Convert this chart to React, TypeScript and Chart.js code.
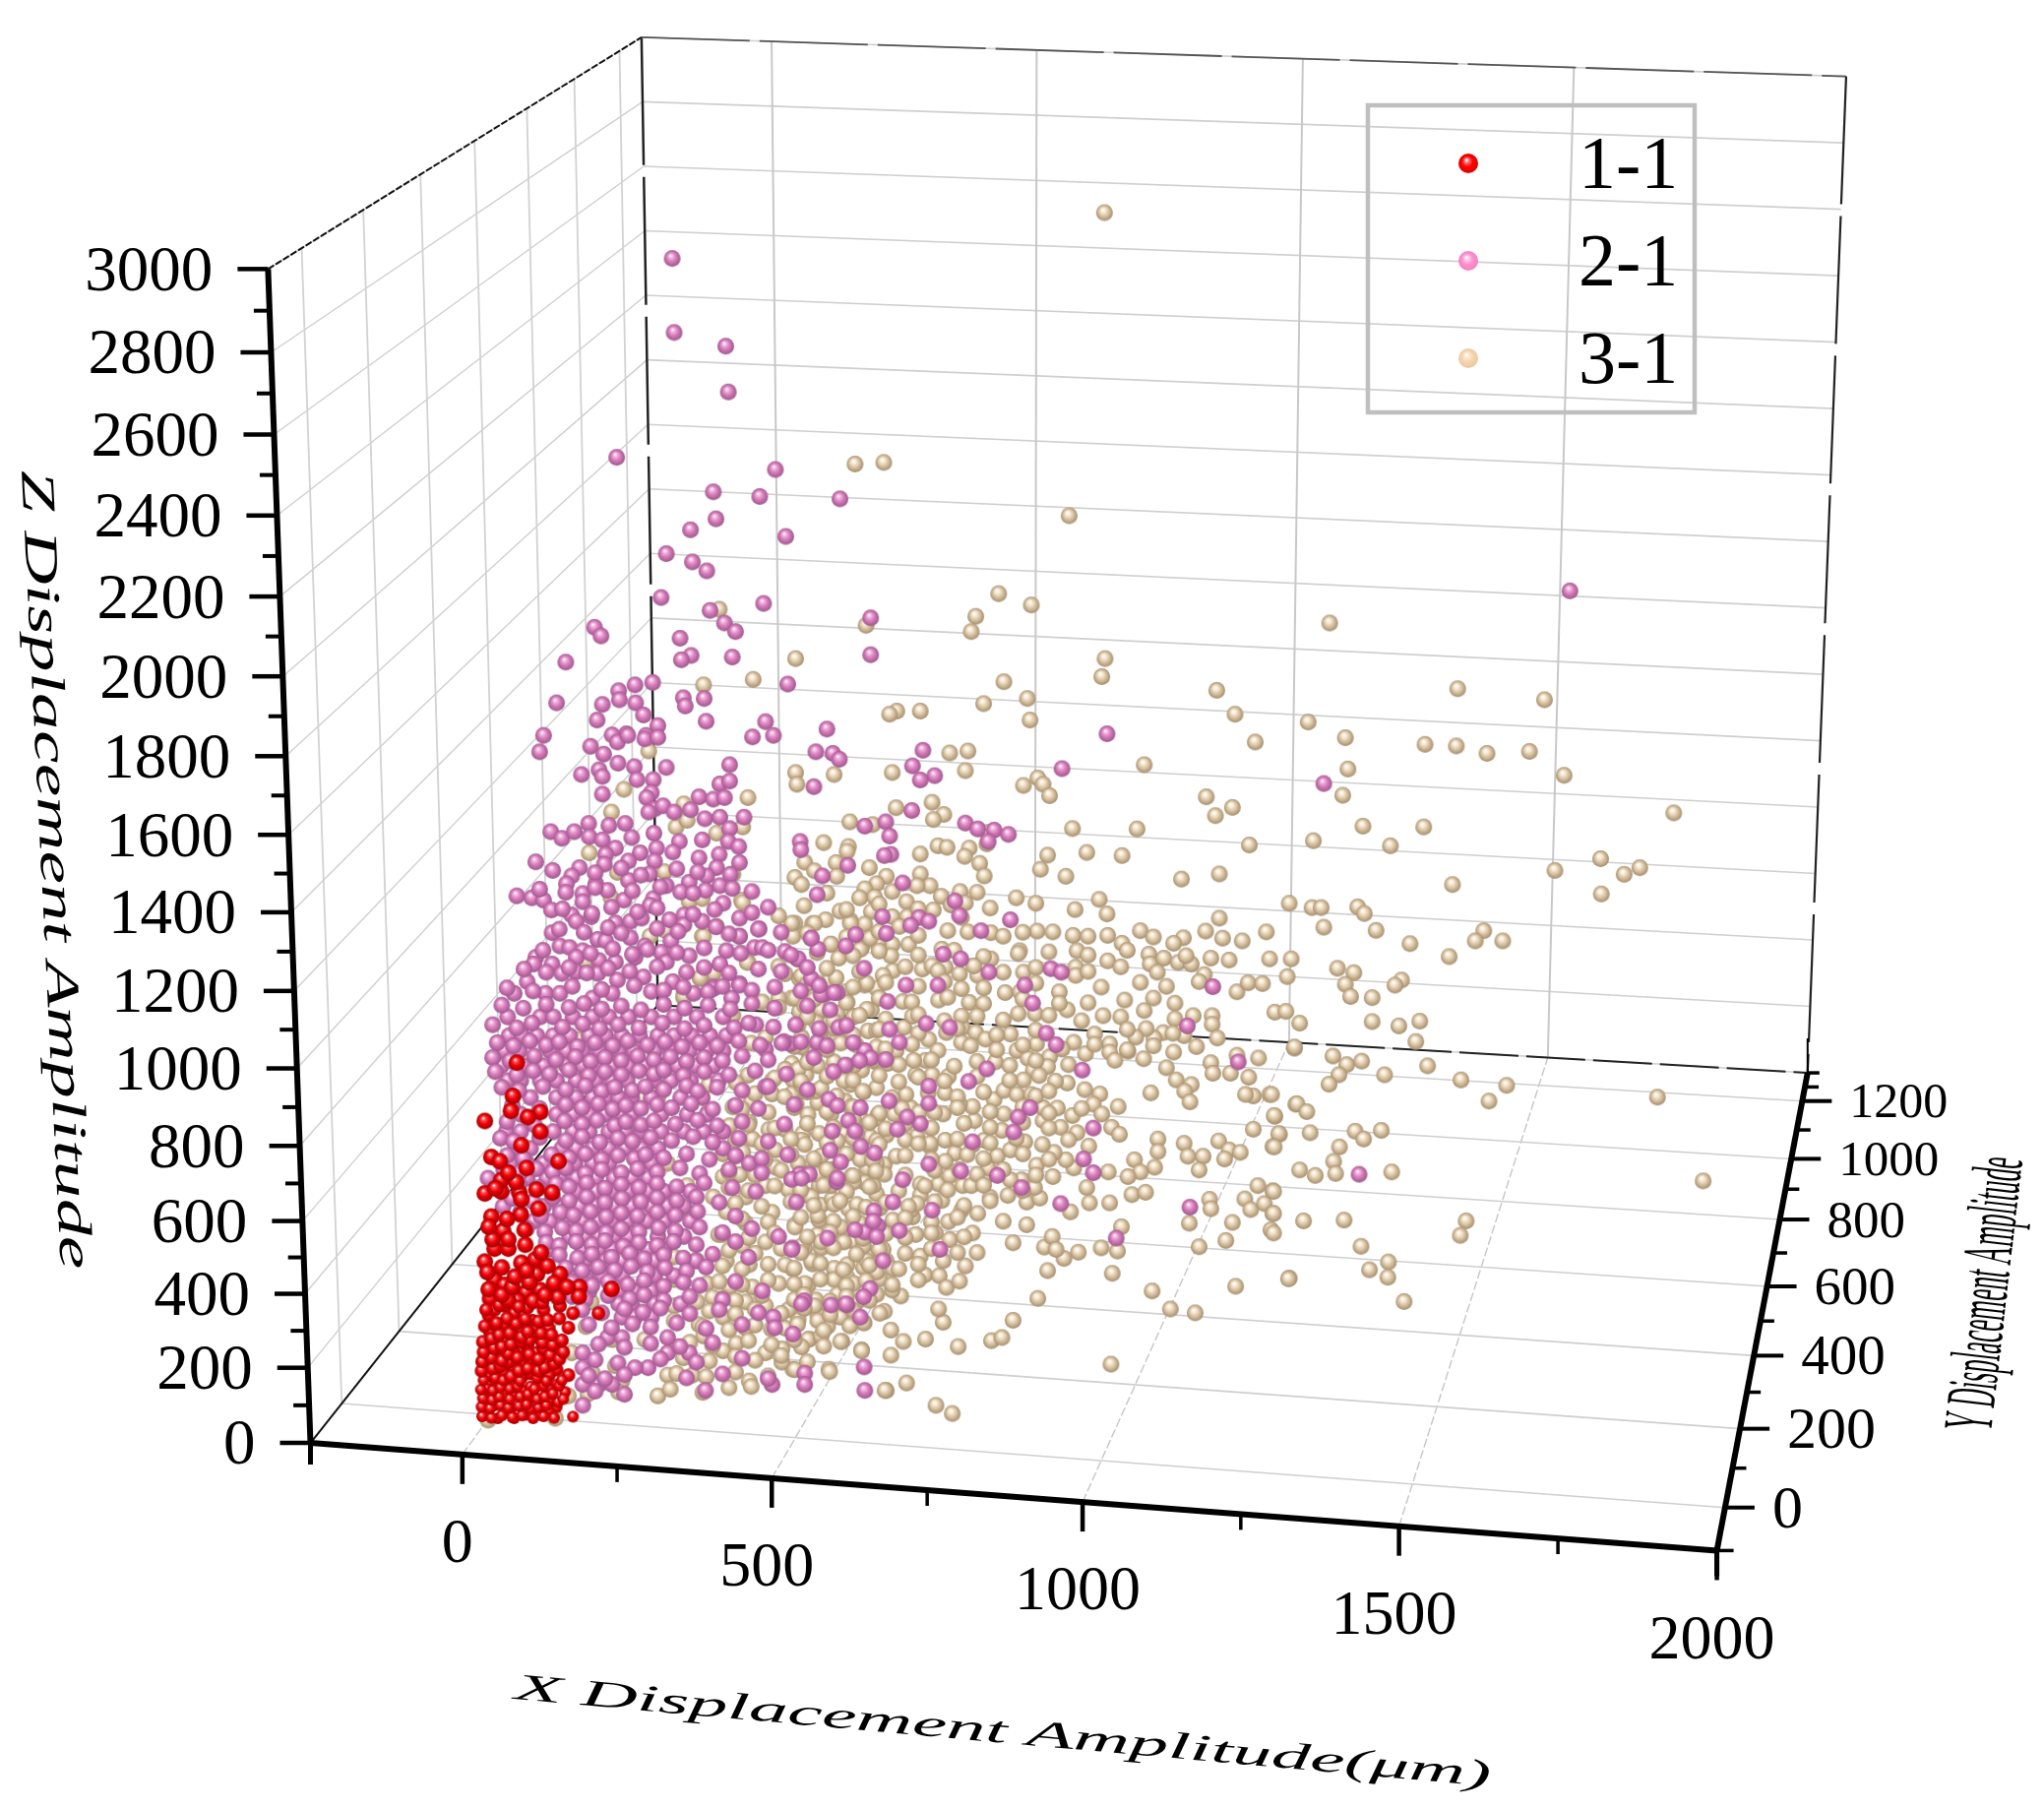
import React, { useEffect, useRef } from "react";
import { Chart, registerables } from "chart.js";
Chart.register(...registerables);

// Tick labels and series names
const seriesNames = ["1-1", "2-1", "3-1"];
const xTickLabels = ["0", "500", "1000", "1500", "2000"];
const yTickLabels = ["0", "200", "400", "600", "800", "1000", "1200"];
const zTickLabels = ["0", "200", "400", "600", "800", "1000", "1200", "1400", "1600", "1800", "2000", "2200", "2400", "2600", "2800", "3000"];

// Values, as x,z pairs in the projected plane
const red11 = [85,971,36,822,79,886,76,848,121,845,102,832,121,795,46,730,59,719,149,719,36,637,61,642,89,639,115,647,139,639,61,671,84,666,46,578,91,583,97,544,64,542,51,496,72,496,36,463,92,460,113,468,51,417,116,431,66,403,151,431,181,398,180,374,230,393,44,369,99,384,121,390,146,385,86,364,151,350,66,350,42,326,171,331,210,331,109,312,66,302,164,294,134,293,44,283,89,288,111,273,139,259,66,259,44,245,91,240,114,230,144,235,66,221,41,211,94,206,121,197,146,187,164,173,66,182,41,173,94,168,121,158,146,149,66,149,39,139,94,134,121,125,66,115,39,111,94,106,121,96,146,91,171,67,99,72,69,82,39,77,121,72,56,63,81,63,51,340,76,321,101,345,126,340,51,302,81,331,116,293,51,264,79,273,101,249,126,240,51,225,79,235,106,211,134,206,51,197,79,192,106,178,134,173,51,158,79,154,106,144,134,139,159,130,51,130,79,120,106,115,134,106,51,96,76,87,106,87,134,82];

const redFill = [32,68,46,64,62,70,78,66,93,70,110,63,126,68,142,64,31,92,44,88,60,96,72,90,88,94,100,98,118,90,130,96,148,104,33,114,47,110,58,118,74,112,90,118,102,124,116,112,128,118,140,126,156,112,30,136,48,134,60,142,74,138,86,144,112,138,126,146,150,146,34,160,52,166,64,160,76,170,90,158,116,166,130,158,154,160,31,184,48,190,60,196,72,206,88,184,102,190,118,184,128,192,142,202,32,208,46,218,62,210,72,228,86,218,104,226,118,214,136,224,150,214,34,232,50,242,62,246,76,252,92,258,104,262,124,256,140,250,156,232,33,258,46,266,58,276,74,280,92,270,102,284,122,280,138,276,154,262,36,298,54,306,70,318,84,304,98,316,118,310,132,314,150,318,38,340,58,352,72,364,88,348,110,362,124,358,148,372,42,392,62,378,78,398,104,410,128,378,142,408,162,398,40,436,62,448,82,424,100,440,132,452,48,520,72,520,98,506,122,486,42,552,70,572,92,622,118,598,52,650,72,690,100,702,92,760];

const pink21 = [323,3025,326,2836,405,2801,409,2684,238,2517,481,2486,386,2429,457,2417,580,2411,390,2360,351,2332,497,2315,314,2271,354,2250,376,2227,306,2159,463,2144,381,2126,403,2094,420,2072,627,2107,335,2055,352,2011,337,2000,415,2007,627,2013,293,1942,266,1936,241,1921,500,1938,340,1903,372,1901,267,1890,343,1882,279,1859,375,1843,466,1842,560,1823,301,1832,989,1811,253,1811,283,1807,446,1803,478,1807,1698,2176,1321,1684,1375,686,
920,1722,543,1765,569,1761,579,1746,707,1769,691,1729,725,1704,703,1693,540,1676,690,1615,650,1586,618,1575,772,1583,791,1568,816,1565,838,1554,807,1536,656,1550,519,1536,520,1515,658,1503,648,1500,592,1475,553,1448,676,1430,545,1400,756,1384,763,1347,841,1336,701,1342,716,1332,688,1322,645,1344,796,1308,604,1298,651,1301,536,1289,546,1261,589,1269,
515,1236,617,1212,808,1202,903,1211,919,1202,765,1236,738,1248,681,1169,730,1169,863,1169,1151,1165,536,1186,557,1146,576,1150,653,1127,875,1123,712,1071,656,1056,578,1061,748,1061,896,1046,911,1017,1112,1065,671,1023,545,1023,504,1019,618,1002,627,983,650,979,588,965,805,955,777,923,951,952,716,911,1190,973,563,877,655,873,716,867,871,856,853,832,576,861,611,856,703,815,683,832,593,823,603,796,568,796,668,801,846,794,968,804,783,769,565,747,612,757,633,740,581,717,716,712,953,725,968,690,518,686,506,673,533,686,575,667,676,672,765,694,821,683,858,652,918,611,1116,602,721,594,632,592,638,554,618,538,671,542,561,523,603,544,507,498,733,494,1003,523,646,465,626,394,616,373,591,352,566,352,525,363,508,278,617,194,526,178,513,615,661,615,
204,2083,214,2061,160,1994,146,1890,242,1898,216,1886,208,1846,126,1807,120,1765,231,1808,239,1790,255,1807,281,1798,301,1802,198,1779,218,1759,240,1736,265,1727,314,1725,184,1707,211,1719,216,1702,269,1694,294,1694,411,1732,396,1683,411,1690,216,1657,291,1661,284,1648,364,1650,386,1644,403,1648,296,1619,287,1611,309,1627,326,1611,351,1617,373,1594,396,1598,433,1598,195,1582,226,1577,251,1582,137,1561,154,1544,173,1561,196,1548,216,1540,261,1546,295,1557,334,1536,369,1540,411,1569,409,1536,236,1519,221,1503,274,1507,299,1519,324,1509,425,1523,364,1494,395,1503,114,1484,181,1469,219,1478,256,1486,296,1486,391,1469,426,1482,169,1448,288,1453,256,1436,376,1448,161,1428,206,1428,314,1423,349,1432,396,1423,85,1397,108,1392,126,1386,138,1361,186,1403,224,1411,186,1382,249,1386,294,1390,336,1407,374,1411,401,1378,289,1373,169,1348,176,1332,199,1344,236,1328,259,1332,276,1340,319,1336,341,1348,369,1332,426,1340,139,1303,209,1286,259,1290,321,1282,341,1323,426,1294,151,1269,166,1265,186,1257,221,1282,281,1269,306,1253,406,1257,449,1265,114,1240,139,1223,176,1240,211,1232,236,1228,266,1240,314,1228,349,1244,396,1223,111,1223,154,1199,176,1203,209,1199,239,1182,279,1190,324,1178,426,1173,101,1178,386,1165,81,1148,129,1148,151,1148,201,1136,231,1148,291,1153,356,1148,414,1136,
71,1088,121,1088,141,1088,171,1088,201,1088,226,1088,256,1088,291,1088,326,1088,361,1088,401,1088,73,1040,93,1040,116,1040,141,1040,166,1040,196,1040,221,1040,246,1040,273,1040,301,1040,326,1040,353,1040,381,1040,406,1040,466,1005,494,1025,66,1001,89,1001,136,1001,161,1001,186,1001,211,1001,241,1001,264,1001,296,1001,321,1001,349,1001,376,1001,401,1001,61,963,96,963,126,963,161,963,186,963,206,963,231,963,256,963,281,963,306,963,331,963,359,963,386,963,71,925,91,925,121,925,146,925,176,925,206,925,231,925,254,925,296,925,321,925,351,925,394,925,106,882,146,882,176,882,201,882,221,882,241,882,261,882,291,882,336,882,369,882,466,910,91,839,146,839,171,839,196,839,221,839,246,839,261,839,306,839,346,839,376,839,69,795,91,795,141,795,171,795,196,795,226,795,251,795,276,795,306,795,341,795,371,795,401,795,86,752,106,752,154,752,176,752,201,752,226,752,251,752,276,752,301,752,401,752,76,714,101,714,126,714,151,714,174,714,201,714,226,714,271,714,291,714,441,714,41,676,101,676,131,676,151,676,176,676,206,676,234,676,261,676,286,676,521,676,576,676,176,642,206,642,231,642,256,642,286,642,311,642,351,642,451,642,64,604,126,604,151,604,181,604,206,604,236,604,261,604,291,604,316,604,341,604,111,566,136,566,166,566,186,566,211,566,231,566,254,566,284,566,311,566,351,566,631,566,166,527,189,527,211,527,234,527,256,527,301,527,341,527,486,527,636,527,133,494,186,494,211,494,231,494,261,494,286,494,311,494,506,494,189,465,221,465,246,465,271,465,296,465,359,465,166,427,191,427,216,427,246,427,296,427,326,427,161,388,196,388,241,388,266,388,291,388,461,388,241,355,261,355,296,355,336,355,521,355,589,355,246,321,266,321,291,321,478,321,611,321,224,269,246,269,316,269,186,230,316,230,349,230,186,192,286,192,266,192,186,149,211,149,231,149,476,149,526,149,374,134,618,134,186,96,
456,1313,426,1294,461,1265,496,1255,516,1236,536,1289,426,1169,386,1160,551,1145,571,1150,451,1068,491,1021];

const pinkFill = [140,1462,205,1456,245,1468,275,1450,330,1466,362,1458,412,1452,120,1414,160,1406,205,1418,262,1410,305,1420,355,1404,415,1416,445,1408,155,1364,200,1352,230,1368,270,1356,300,1366,355,1350,388,1362,445,1354,470,1368,150,1312,188,1304,225,1316,245,1302,300,1314,332,1306,390,1318,410,1300,455,1312,490,1304,125,1258,198,1250,232,1262,262,1248,285,1260,330,1252,372,1264,428,1250,470,1258,505,1246,96,1210,130,1202,165,1214,192,1200,225,1212,258,1204,300,1216,345,1202,372,1214,410,1200,455,1210,490,1204,530,1214,70,1162,110,1154,170,1166,215,1158,265,1168,310,1156,340,1164,378,1152,400,1166,445,1156,480,1164,520,1154,548,1168,62,1118,95,1110,130,1120,165,1112,188,1122,215,1108,245,1116,275,1106,310,1120,342,1110,378,1118,412,1108,445,1122,480,1110,530,1116,565,1106,48,1068,85,1060,108,1072,155,1062,186,1070,212,1058,240,1068,272,1060,308,1072,342,1058,372,1066,418,1060,440,1072,478,1062,512,1068,548,1058,590,1066,55,1022,80,1014,105,1026,130,1016,150,1024,178,1012,205,1022,232,1014,255,1026,285,1016,312,1024,338,1012,365,1022,392,1014,425,1026,458,1016,520,1024,560,1014,600,1022,48,984,75,976,112,988,145,978,175,986,198,974,220,984,245,976,270,988,295,978,320,986,345,974,372,984,400,976,430,988,470,978,540,984,610,976,52,948,85,940,110,950,135,942,165,952,195,938,220,948,245,940,272,950,295,942,310,952,340,938,372,948,410,940,450,950,498,942,570,948,62,908,88,900,125,910,160,902,190,912,215,898,235,908,262,900,282,910,310,902,345,912,362,898,392,908,430,900,470,910,530,902,78,862,120,854,160,864,185,856,210,866,232,852,252,862,275,854,300,864,322,856,352,866,385,852,420,862,455,854,510,864,70,820,112,812,158,822,185,814,208,824,235,810,252,820,275,812,295,822,328,814,362,824,392,810,430,820,495,814,60,778,80,770,120,780,160,772,185,782,212,768,240,778,262,770,290,780,322,772,355,782,385,768,425,778,470,770,70,734,95,726,138,736,165,728,190,738,215,724,240,734,265,726,282,736,310,728,345,738,380,724,420,734,460,726,500,736,65,698,90,690,115,700,140,692,160,702,190,688,215,698,245,690,270,700,300,692,335,702,365,688,410,698,460,690,88,660,118,652,145,662,165,654,192,664,220,650,245,660,272,652,300,662,330,654,372,664,415,652,78,624,110,616,140,626,165,618,192,628,220,614,246,624,275,616,300,626,330,618,360,628,395,614,90,587,122,579,152,589,172,581,198,591,222,577,245,587,270,579,300,589,328,581,362,591,420,579,100,547,128,539,155,549,176,541,198,551,222,537,245,547,272,539,302,549,328,541,365,551,400,537,445,547,130,512,150,504,176,514,200,506,220,516,248,502,272,512,300,504,325,514,360,506,420,514,150,480,178,472,200,482,230,474,258,484,280,470,310,480,340,472,385,482,440,474,160,447,185,439,210,449,235,441,260,451,285,437,312,447,345,439,375,449,170,410,200,402,225,412,255,404,280,414,310,400,340,410,365,402,420,412,170,374,190,366,225,376,258,368,280,378,310,364,350,374,400,366,185,340,215,332,250,342,278,334,305,344,350,330,395,340,455,332,195,302,230,294,262,304,290,296,330,306,375,292,430,302,480,294,210,252,250,244,290,254,335,246,385,256,205,212,240,204,305,214,360,206,430,216,195,172,220,164,250,174,345,166,400,176,470,164,205,132,250,124];

const tan31 = [985,3142,1330,2094,603,2500,647,2504,931,2368,823,2169,873,2140,788,2111,781,2072,620,2088,395,2129,512,2003,447,1950,371,1936,986,2003,981,1957,831,1944,867,1901,800,1888,703,1869,667,1869,656,1861,871,1846,
1157,1922,1185,1861,1216,1790,1046,1732,776,1767,748,1762,660,1712,772,1717,512,1712,571,1707,514,1682,883,1698,861,1679,891,1682,901,1653,1141,1650,1181,1623,1155,1602,666,1622,721,1636,739,1605,723,1592,595,1586,630,1579,936,1569,1035,1568,805,1559,555,1533,593,1523,591,1511,730,1525,744,1521,778,1519,771,1498,703,1504,898,1501,958,1508,1012,1500,1207,1527,805,1530,794,1480,801,1448,887,1465,926,1447,625,1469,526,1483,541,1461,574,1482,575,1447,511,1444,521,1426,651,1447,703,1453,636,1428,618,1415,718,1423,698,1423,1103,1440,1161,1453,764,1408,633,1394,682,1382,772,1379,977,1388,989,1351,1268,1378,580,1358,628,1357,723,1361,766,1342,558,1336,596,1334,538,1326,511,1327,618,1325,660,1344,683,1344,671,1319,1161,1340,1140,1307,1233,1305,882,1307,906,1305,937,1296,960,1294,1012,1276,1106,1290,1091,1276,1166,1289,1196,1282,776,1305,811,1303,566,1273,508,1294,613,1265,660,1273,685,1273,638,1273,736,1261,855,1257,943,1257,
853,1250,990,1231,1053,1248,1055,1223,1076,1238,1098,1227,1118,1223,1148,1238,1176,1233,1238,1236,1271,1236,1265,1191,1138,1196,1066,1202,941,1215,941,1194,861,1202,811,1236,706,1210,721,1219,741,1215,763,1198,791,1194,766,1160,731,1131,778,1125,833,1150,856,1152,916,1152,928,1106,916,1123,853,1096,879,1096,983,1091,1016,1131,1046,1104,1093,1123,1093,1083,1121,1091,1150,1091,1150,1069,1188,1152,1205,1175,1227,1173,1246,1100,1263,1102,1158,1034,1126,1012,1107,1040,1075,1048,1061,1034,1049,1058,1033,1036,993,1019,993,998,1021,1000,1001,977,956,994,938,1023,1045,981,1091,998,1080,958,1095,927,1118,915,1108,898,1116,871,1148,971,1151,944,1178,944,1188,990,1221,983,1206,934,1276,1008,1238,890,1213,886,1201,890,1246,834,1213,801,1253,788,1243,757,1278,865,1056,894,1006,859,978,891,955,902,968,865,928,919,981,840,996,806,1008,788,1067,776,1067,744,1107,765,1113,732,1136,732,1130,697,1160,771,1176,748,1193,742,1169,725,1031,723,1062,704,1040,692,1021,680,991,692,961,758,938,702,926,723,908,742,881,709,906,680,958,652,962,613,993,613,1027,634,1048,640,1146,622,1148,598,1115,561,1220,657,1243,644,1200,623,1209,596,1230,611,1243,586,1181,563,1240,544,1171,517,1130,501,1011,552,1005,490,980,498,945,487,923,471,893,500,905,527,911,494,898,440,997,433,845,511,866,557,933,590,866,615,886,625,837,632,810,627,858,672,841,672,801,675,807,702,878,652,1058,388,1186,400,1268,421,1086,342,1124,332,995,201,883,369,845,313,812,261,828,269,761,246,711,265,738,308,731,342,673,375,660,390,648,336,617,307,658,288,677,259,583,259,613,238,658,224,563,188,508,188,651,134,682,153,727,96,752,75,703,477,710,429,732,427,743,397,763,413,738,465,772,452,790,486,726,536,748,519,696,532,783,536,746,565,766,594,791,586,736,619,691,577,661,565,703,661,731,661,748,682,768,657,781,657,756,740,741,773,718,757,783,761,801,773,821,733,841,748,863,769,698,783,651,786,626,782,613,827,586,790,548,790,523,790,638,836,663,840,688,856,701,844,738,840,786,823,828,798,831,840,783,859,763,865,816,877,831,900,851,890,873,890,891,823,891,856,913,855,936,836,918,806,943,792,741,894,681,890,636,907,596,915,588,873,546,869,513,865,521,898,543,898,508,927,528,940,576,948,613,952,653,969,696,940,721,940,746,936,711,977,693,977,666,1002,636,1011,576,1036,551,1031,521,1036,533,994,506,969,623,1052,678,1061,743,1048,768,1061,766,1023,788,1048,803,1031,716,1030,841,1044,851,1002,868,982,881,1019,901,986,898,961,876,952,861,927,818,973,691,1090,766,1090,628,1106,601,1090,576,1098,551,1102,518,1102,506,1136,563,1181,518,1186,618,1169,636,1161,588,1152,676,1127,661,1206,646,1194,578,1238,658,1244,
623,477,651,465,661,444,631,457,616,448,591,423,571,423,641,419,538,457,508,444,531,402,543,365,546,328,576,323,516,315,561,298,533,265,551,498,526,498,586,515,601,515,546,532,511,557,548,569,593,598,531,632,551,607,568,623,548,657,598,682,621,702,618,665,648,711,636,636,661,569,603,740,648,686,666,732,543,723,533,690,521,773,566,698,601,827,688,594,703,632,698,611,718,765,741,719,763,698,
1526,1926,1659,1898,1297,1841,1354,1801,1476,1784,1524,1780,1571,1761,1636,1766,1689,1705,1358,1721,1350,1654,1857,1609,1381,1575,1474,1573,1305,1538,1423,1525,1745,1492,1675,1462,1805,1469,1781,1452,1518,1426,1746,1402,1303,1367,1317,1367,1373,1369,1383,1352,1321,1317,1401,1309,1453,1275,1566,1308,1553,1282,1595,1282,1513,1242,1342,1212,1367,1201,1354,1171,1362,1140,1395,1137,1440,1182,1430,1169,1395,1076,1436,1065,1468,1077,1462,1025,1284,1072,1276,1011,
1335,988,1356,966,1379,975,1414,940,1480,963,1531,927,1601,913,1344,940,1329,916,1574,873,1832,883,1280,866,1295,846,1245,836,1241,890,1300,792,1369,796,1409,798,1382,776,1252,790,1245,756,1345,756,1336,719,1284,697,1308,683,1339,688,1425,692,1902,669,1244,642,1244,586,1290,567,1352,569,1539,567,1530,530,1244,536,1378,502,1420,462,1391,442,1419,423,1267,419,1444,361,
287,1767,249,1669,230,1611,439,1648,341,1632,329,1573,346,1590,391,1557,431,1573,196,1507,239,1457,311,1459,416,1453,229,1394,349,1383,369,1390,429,1386,314,1311,391,1319,369,1294,289,1294,194,1232,439,1228,366,1186,341,1144,386,1199,
341,1136,486,1136,511,1136,506,1327,486,1346,431,1380,371,1294,313,1308,191,1231,366,1188,341,1140,438,1227,486,1217,496,1198,461,1126,486,1112,416,1092,179,1030,216,1035,371,1021,411,1040,444,1021,466,1035,136,949,184,925,439,939,421,920,496,954,476,925,379,915,276,882,301,882,444,872,416,858,379,848,476,891,506,891,441,819,411,810,471,800,496,800,256,791,276,757,196,743,316,714,401,738,446,776,481,748,431,743,401,680,481,704,451,700,426,685,546,685,236,657,316,618,346,657,386,628,436,628,466,657,501,647,536,628,264,590,341,599,406,590,436,561,476,589,511,551,546,580,394,532,431,503,466,513,521,503,551,513,586,513,326,475,361,465,406,465,441,455,496,455,536,465,571,446,621,465,221,436,326,417,376,407,411,398,446,398,486,407,526,407,571,417,199,360,291,369,326,350,361,360,401,369,436,360,466,350,501,340,541,350,191,297,326,312,364,302,401,321,436,293,496,293,531,264,616,307,169,230,231,264,281,264,331,245,371,273,401,235,421,254,466,230,581,259,613,235,211,158,201,178,236,197,246,158,241,130,316,173,354,173,301,120,441,158,444,144,491,206,511,187,564,182,194,125,164,120,144,63,41,58,649,134,
541,1327,566,1274,596,1327,611,1260,626,1289,521,1193,546,1174,574,1188,621,1174,641,1136,526,1116,551,1107,591,1126,621,1107,516,1068,544,1073,571,1059,601,1088,636,1054,521,1011,551,1030,581,1021,516,954,546,963,571,973,601,963,636,973,521,915,551,906,586,925,616,896,596,858,566,839,531,839,636,829,606,791,576,771,526,762,636,772,611,724,581,733,551,733,516,714,636,714,601,666,566,657,631,657,606,609,571,609,641,599,611,561,581,551,641,542,616,503,591,455,646,494,636,436,601,407,636,379,576,379,606,360,581,321,546,312,641,331,551,273,521,245,491,240];

const tanFill = [560,1404,610,1392,660,1408,735,1396,790,1406,850,1392,525,1372,590,1362,640,1376,700,1364,750,1374,810,1366,880,1378,940,1362,530,1302,590,1292,640,1306,700,1296,745,1308,830,1294,860,1304,990,1296,1040,1308,1060,1292,545,1252,600,1244,640,1256,700,1246,755,1258,800,1242,900,1254,960,1246,1020,1258,1110,1244,560,1212,610,1204,680,1216,730,1206,785,1218,830,1202,880,1214,960,1204,1010,1216,530,1172,600,1164,650,1176,700,1166,740,1178,800,1162,880,1174,980,1164,1040,1176,1080,1166,1130,1178,540,1132,590,1124,640,1136,690,1126,745,1138,800,1122,860,1134,960,1124,1060,1136,530,1088,570,1078,610,1092,650,1082,700,1094,740,1078,790,1090,830,1080,900,1092,950,1078,1010,1088,550,1052,600,1042,640,1056,700,1046,760,1058,820,1042,880,1054,970,1044,1020,1056,1090,1046,510,1012,560,1004,605,1016,650,1006,690,1018,730,1002,780,1014,820,1004,860,1016,920,1006,970,1018,1020,1004,1060,1014,530,972,590,964,630,976,670,966,720,978,755,962,790,974,840,964,880,976,930,966,480,932,520,924,560,936,600,926,640,938,670,922,700,934,740,924,790,936,840,926,885,938,910,924,450,892,495,884,530,896,575,886,615,898,660,882,715,894,760,884,800,896,880,886,900,898,430,852,470,844,510,856,560,846,600,858,640,842,675,854,725,844,760,856,810,846,860,858,900,842,950,854,440,812,480,804,530,816,570,806,625,818,650,802,680,814,720,804,770,816,810,806,860,818,900,804,420,772,460,764,505,776,560,766,600,778,640,762,680,774,700,764,760,776,810,766,850,778,890,762,930,774,420,732,465,724,505,736,540,726,590,738,630,722,680,734,720,724,775,736,800,726,860,738,900,724,410,692,450,684,490,696,520,686,560,698,600,682,635,694,680,684,725,696,790,686,830,698,880,684,410,652,440,644,480,656,520,646,555,658,590,642,625,654,670,644,710,656,745,646,800,658,860,644,420,612,460,604,505,616,540,606,580,618,620,602,650,614,685,604,725,616,770,606,810,618,430,572,470,564,520,576,570,566,600,578,630,562,680,574,720,564,760,576,830,566,400,532,440,524,480,536,530,526,565,538,615,522,650,534,680,524,720,536,770,526,410,492,450,484,490,496,520,486,570,498,605,482,640,494,680,484,720,496,760,486,400,452,430,444,470,456,510,446,550,458,585,442,625,454,670,444,700,456,395,412,430,404,470,416,510,406,550,418,590,402,620,414,660,404,700,416,385,372,420,364,460,376,510,366,525,378,565,362,590,374,625,364,380,337,420,329,450,341,490,331,525,343,565,327,600,339,370,297,410,289,450,301,475,291,515,303,555,287,595,299,350,257,385,249,440,261,475,251,510,263,555,247,340,217,380,209,420,221,450,211,490,223,530,207,330,177,375,169,420,181,470,171,320,137,370,129,410,141];

// Frame corners and grid fractions of the 3D box in the projected plane
const cornerA = [-231, 0];
const cornerB = [1923, -275];
const cornerC = [2062, 945];
const cornerD = [301, 1118];
const cornerE = [-296, 2998];
const cornerF = [276, 3590];
const cornerG = [2121, 3490];
const xFracs = [0.108, 0.328, 0.549, 0.774, 1];
const yFracs = [0.09, 0.255, 0.408, 0.553, 0.693, 0.82, 0.941];
const zFracs = [0, 0.064, 0.127, 0.189, 0.253, 0.319, 0.385, 0.452, 0.518, 0.585, 0.653, 0.721, 0.79, 0.859, 0.929, 1];
const yLabelSizes = [62, 60, 57, 55, 53, 51, 50];

const pairs = (a: number[]) => {
  const out: { x: number; y: number }[] = [];
  for (let i = 0; i + 1 < a.length; i += 2) out.push({ x: a[i], y: a[i + 1] });
  return out;
};

const sprite = (d: number, light: string, base: string, dark: string) => {
  const S = Math.ceil(d) + 2;
  const c = document.createElement("canvas");
  c.width = S;
  c.height = S;
  const g = c.getContext("2d")!;
  const m = S / 2;
  const gr = g.createRadialGradient(m - d * 0.1, m - d * 0.18, d * 0.02, m, m, d * 0.52);
  gr.addColorStop(0, "#ffffff");
  gr.addColorStop(0.2, light);
  gr.addColorStop(0.52, base);
  gr.addColorStop(1, dark);
  g.fillStyle = gr;
  g.beginPath();
  g.arc(m, m, d / 2, 0, Math.PI * 2);
  g.fill();
  return c;
};

const lerp = (a: number[], b: number[], t: number) => [a[0] + (b[0] - a[0]) * t, a[1] + (b[1] - a[1]) * t];
const SERIF = '"Liberation Serif", "Times New Roman", serif';

const framePlugin = {
  id: "frame3d",
  beforeDatasetsDraw(chart: any) {
    const { ctx, scales } = chart;
    const px = (p: number[]) => [scales.x.getPixelForValue(p[0]), scales.y.getPixelForValue(p[1])];
    const seg = (a: number[], b: number[], w: number, col: string, dash: number[] = []) => {
      const p = px(a), q = px(b);
      ctx.save();
      ctx.lineWidth = w;
      ctx.strokeStyle = col;
      ctx.setLineDash(dash);
      ctx.beginPath();
      ctx.moveTo(p[0], p[1]);
      ctx.lineTo(q[0], q[1]);
      ctx.stroke();
      ctx.restore();
    };
    const GRID = "#cfcfcf";
    const backZ = zFracs.map((_, i) => i / 15);
    // back wall
    backZ.forEach((t) => seg(lerp(cornerD, cornerF, t), lerp(cornerC, cornerG, t), 1.6, GRID));
    xFracs.slice(0, 4).forEach((t) => seg(lerp(cornerD, cornerC, t), lerp(cornerF, cornerG, t), 2, "#c8c8c8"));
    // left wall
    zFracs.slice(1).forEach((t, i) => seg(lerp(cornerA, cornerE, t), lerp(cornerD, cornerF, backZ[i + 1]), 1.4, GRID));
    yFracs.forEach((t) => seg(lerp(cornerA, cornerD, t), lerp(cornerE, cornerF, t), 1.8, "#d2d2d2"));
    // floor
    xFracs.slice(0, 4).forEach((t) => seg(lerp(cornerA, cornerB, t), lerp(cornerD, cornerC, t), 1.4, "#c6c6c6", [9, 3]));
    yFracs.forEach((t) => seg(lerp(cornerA, cornerD, t), lerp(cornerB, cornerC, t), 1.6, GRID));
    // thin dark edges
    seg(cornerE, cornerF, 2, "#111111", [7, 2]);
    seg(cornerA, cornerD, 2, "#111111");
    seg(cornerF, cornerD, 2.5, "#222222", [130, 12]);
    seg(cornerF, cornerG, 1.8, "#555555", [110, 10]);
    seg(cornerG, cornerC, 2.2, "#222222", [130, 12]);
    seg(cornerD, cornerC, 2, "#222222", [60, 8]);
    // thick axes
    seg(cornerA, cornerE, 6, "#000000");
    seg(cornerA, cornerB, 6, "#000000");
    seg(cornerB, cornerC, 6, "#000000");

    const tick = (p: number[], dx: number, dy: number, w: number) => {
      const a = px(p);
      ctx.save();
      ctx.lineWidth = w;
      ctx.strokeStyle = "#000";
      ctx.beginPath();
      ctx.moveTo(a[0], a[1]);
      ctx.lineTo(a[0] + dx, a[1] + dy);
      ctx.stroke();
      ctx.restore();
    };
    const label = (t: string, x: number, y: number, size: number, align: CanvasTextAlign) => {
      ctx.save();
      ctx.font = `${size}px ${SERIF}`;
      ctx.fillStyle = "#000";
      ctx.textAlign = align;
      ctx.textBaseline = "alphabetic";
      ctx.fillText(t, x, y + size * 0.33);
      ctx.restore();
    };
    // Z axis
    zFracs.forEach((t, i) => {
      const p = lerp(cornerA, cornerE, t);
      tick(p, -31, 0, 4.5);
      const a = px(p);
      label(zTickLabels[i], a[0] - 56, a[1], 65, "right");
      if (i < zFracs.length - 1) tick(lerp(cornerA, cornerE, (t + zFracs[i + 1]) / 2), -16, 0, 4);
    });
    tick(cornerA, 0, 22, 5);
    // X axis
    xFracs.forEach((t, i) => {
      const p = lerp(cornerA, cornerB, t);
      tick(p, 0, 30, 4.5);
      const a = px(p);
      label(xTickLabels[i], a[0] - 5, a[1] + 88, 64, "center");
      const prev = i === 0 ? 0 : xFracs[i - 1];
      if (i > 0) tick(lerp(cornerA, cornerB, (t + prev) / 2), 0, 16, 3.5);
    });
    // Y axis
    yFracs.forEach((t, i) => {
      const p = lerp(cornerB, cornerC, t);
      tick(p, 30, 0, 4);
      const a = px(p);
      label(yTickLabels[i], a[0] + 48, a[1], yLabelSizes[i], "left");
      const next = i < yFracs.length - 1 ? yFracs[i + 1] : 1;
      tick(lerp(cornerB, cornerC, (t + next) / 2), 14, 0, 3.5);
    });
    tick(cornerB, 17, 0, 3.5);
    tick(cornerB, 0, 26, 5);
    tick(cornerC, 12, 0, 3.5);
    tick(cornerC, 0, -35, 2);
  },
  afterDatasetsDraw(chart: any) {
    const { ctx } = chart;
    const title = (t: string, x0: number, y0: number, x1: number, y1: number, font: string) => {
      ctx.save();
      ctx.font = font;
      ctx.fillStyle = "#000";
      ctx.textAlign = "left";
      ctx.textBaseline = "alphabetic";
      const len = Math.hypot(x1 - x0, y1 - y0);
      const w = ctx.measureText(t).width;
      ctx.translate(x0, y0);
      ctx.rotate(Math.atan2(y1 - y0, x1 - x0));
      ctx.scale(len / w, 1);
      ctx.fillText(t, 0, 0);
      ctx.restore();
    };
    title("Z Displacement Amplitude", 22, 478, 62, 1290, `italic 48px ${SERIF}`);
    title("X Displacement Amplitude(\u03bcm)", 522, 1726, 1514, 1815, `italic 38px ${SERIF}`);
    title("Y Displacement Amplitude", 2023, 1456, 2055, 1178, `72px ${SERIF}`);

    // legend
    ctx.save();
    ctx.strokeStyle = "#bfbfbf";
    ctx.lineWidth = 4.5;
    ctx.strokeRect(1390, 107, 332, 312);
    const sprites = [sprite(20, "#ff7070", "#ff0000", "#dd0000"), sprite(20, "#ffc8e8", "#ff90d0", "#f080c0"), sprite(20, "#fde8d0", "#f5d5b0", "#eac8a0")];
    const rows = [166, 265, 364];
    seriesNames.forEach((n, i) => {
      const s = sprites[i];
      ctx.drawImage(s, 1492 - s.width / 2, rows[i] - s.height / 2);
      ctx.font = `76px ${SERIF}`;
      ctx.fillStyle = "#000";
      ctx.textAlign = "left";
      ctx.textBaseline = "alphabetic";
      ctx.fillText(n, 1604, rows[i] + 25);
    });
    ctx.restore();
  },
};

export default function App() {
  const ref = useRef<HTMLCanvasElement>(null);
  useEffect(() => {
    document.body.style.margin = "0";
    const redBig = sprite(17, "#ff5050", "#ee0008", "#980000");
    const redMid = sprite(14, "#ff5858", "#ee0008", "#9c0000");
    const redSmall = sprite(12, "#ff6060", "#ee0008", "#a00000");
    const pinkDot = sprite(17, "#f6b4e0", "#d67cba", "#985488");
    const tanDot = sprite(17, "#fbeedb", "#dcc8a8", "#a08868");
    const chart = new Chart(ref.current!, {
      type: "scatter",
      data: {
        datasets: [
          { label: seriesNames[2], data: pairs(tan31.concat(tanFill)), pointStyle: tanDot as any, order: 3 },
          { label: seriesNames[1], data: pairs(pink21.concat(pinkFill)), pointStyle: pinkDot as any, order: 2 },
          {
            label: seriesNames[0],
            data: pairs(red11.concat(redFill)),
            pointStyle: ((c: any) => (!c.raw ? redBig : c.raw.y < 170 ? redSmall : c.raw.y < 360 ? redMid : redBig)) as any,
            order: 1,
          },
        ],
      },
      options: {
        responsive: false,
        animation: false,
        layout: { padding: 0 },
        plugins: { legend: { display: false }, tooltip: { enabled: false } },
        scales: {
          x: { type: "linear", display: false, min: -699, max: 2416.5 },
          y: { type: "linear", display: false, min: -922.5, max: 3672.5 },
        },
      },
      plugins: [framePlugin as any],
    });
    return () => chart.destroy();
  }, []);
  return <canvas ref={ref} width={2077} height={1838} style={{ display: "block", width: 2077, height: 1838 }} />;
}
